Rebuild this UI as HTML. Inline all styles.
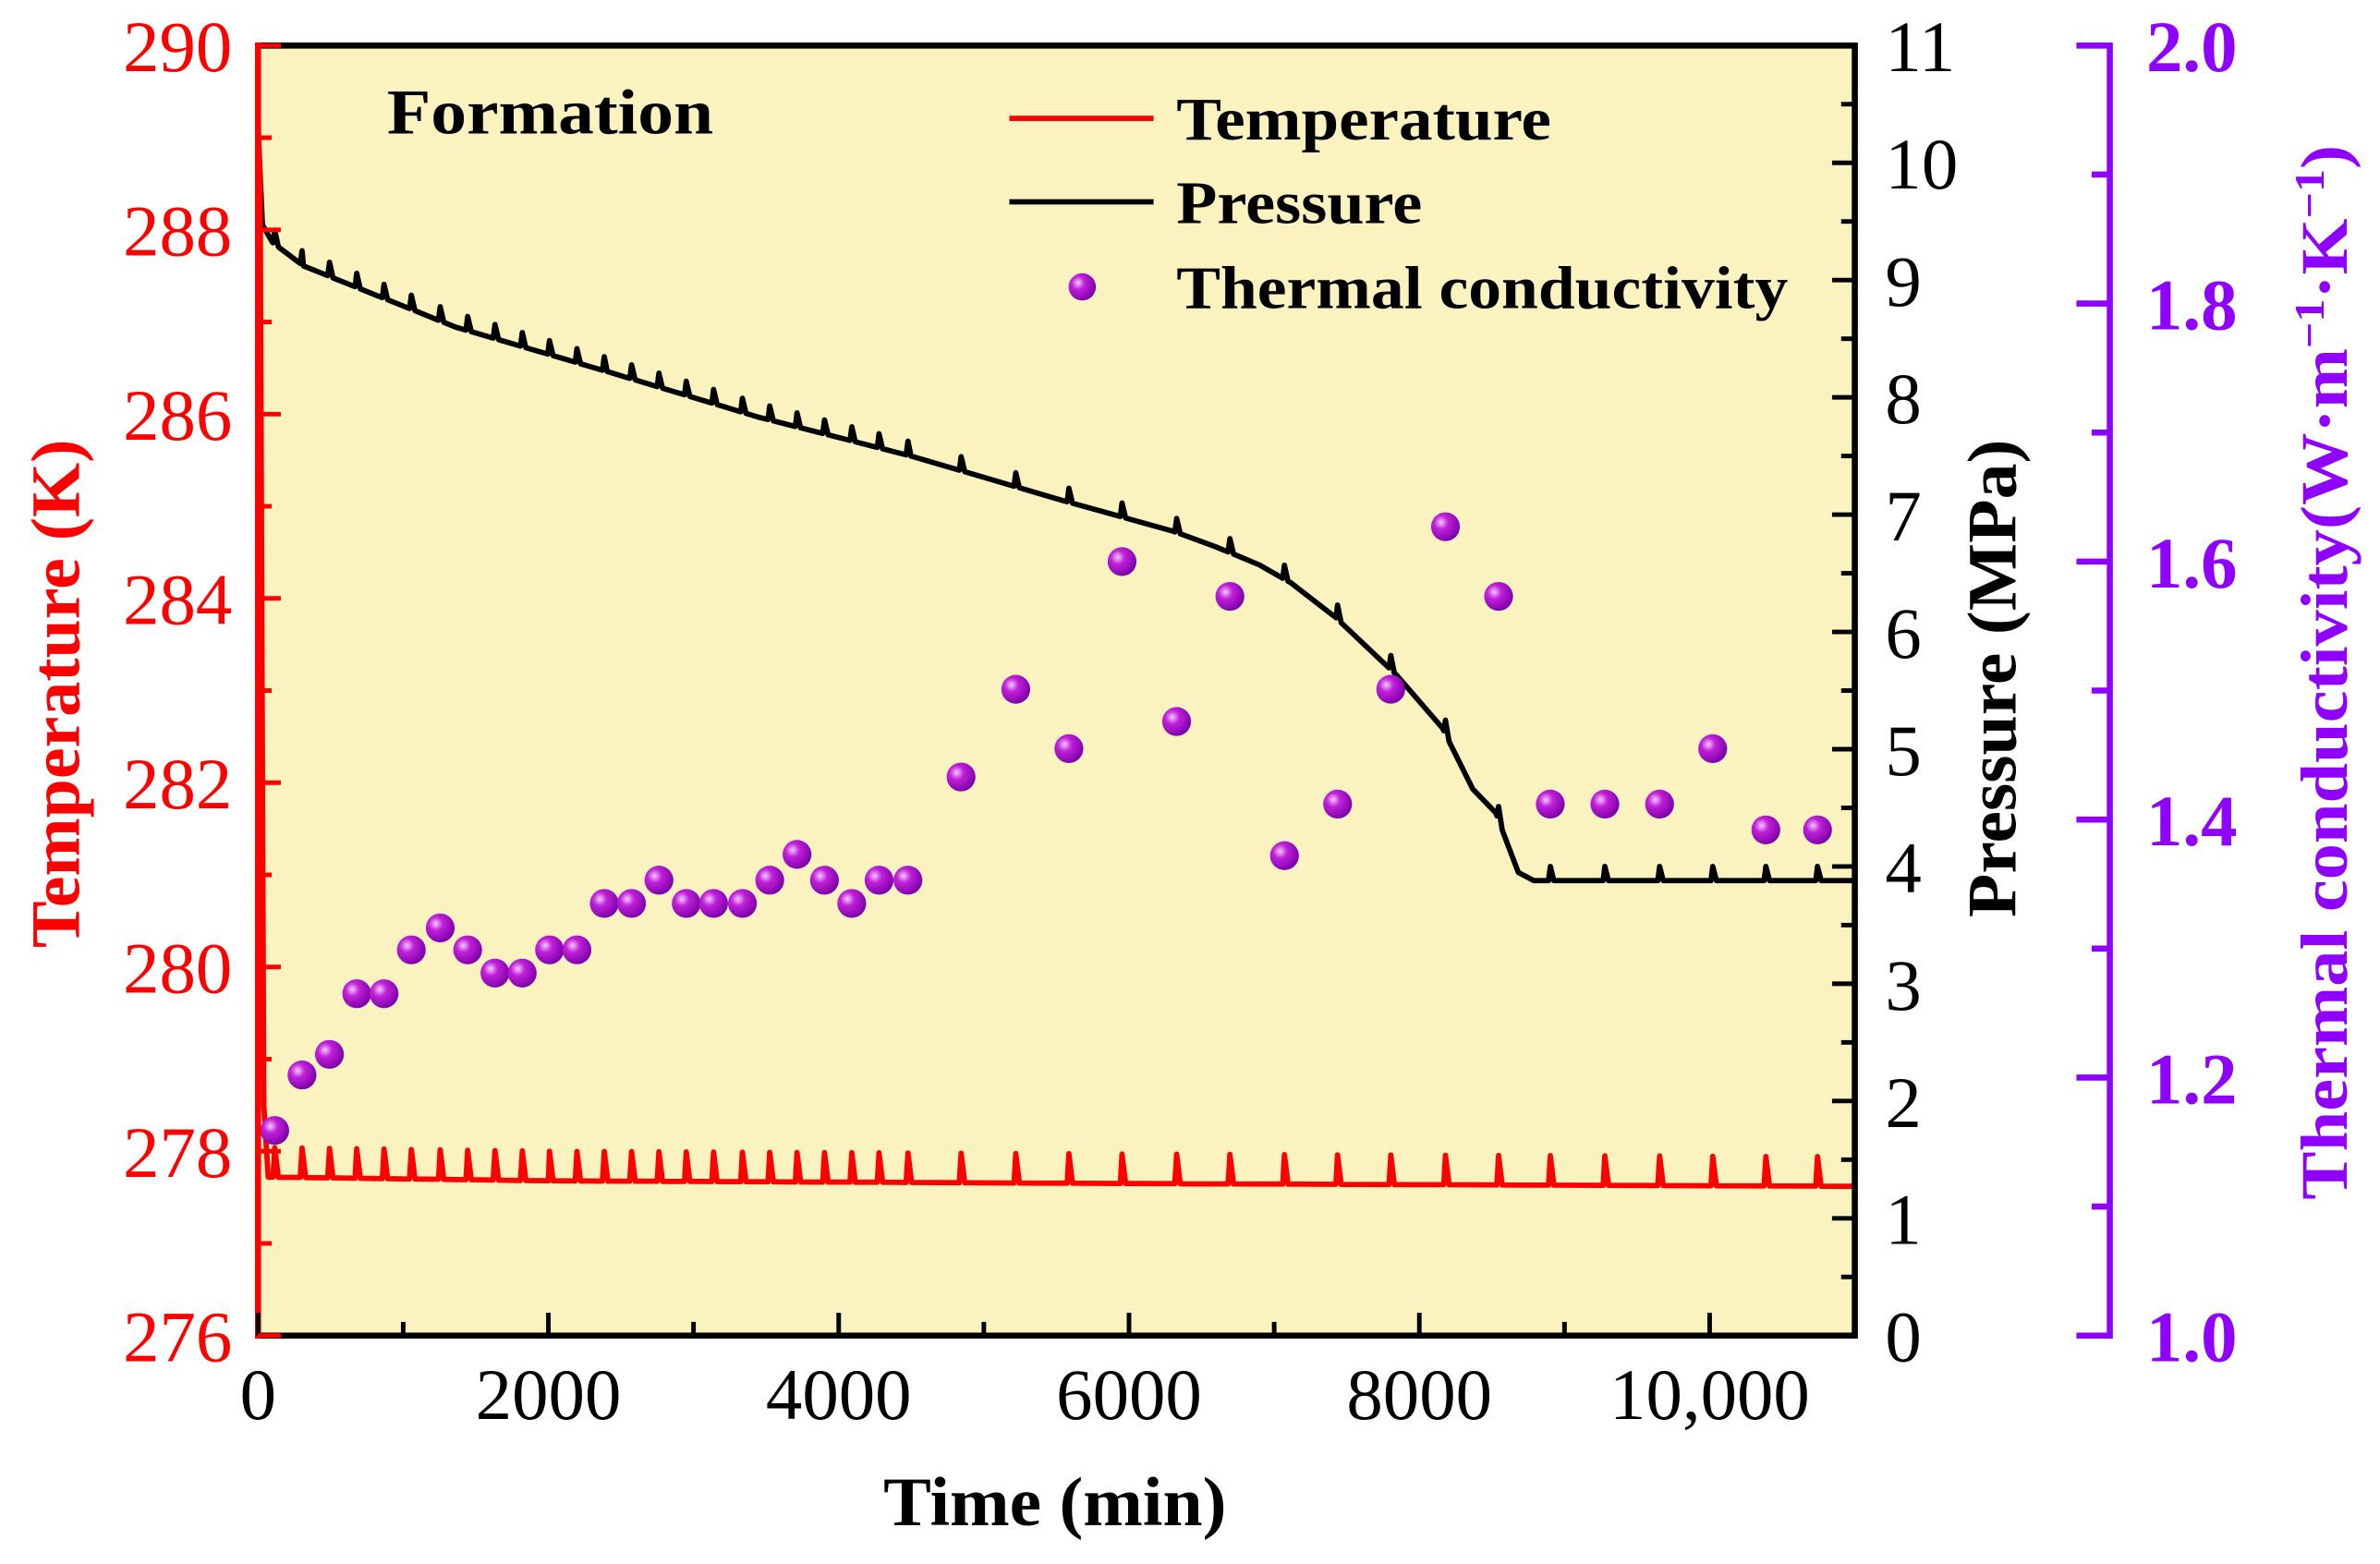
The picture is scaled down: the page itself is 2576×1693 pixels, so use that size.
<!DOCTYPE html>
<html><head><meta charset="utf-8"><style>
html,body{margin:0;padding:0;background:#fff;}
svg{display:block;font-family:"Liberation Serif",serif;}
</style></head><body>
<svg id="chart" width="2576" height="1693" viewBox="0 0 1568 1030.5" xmlns="http://www.w3.org/2000/svg">
<defs>
<radialGradient id="ball" cx="0.35" cy="0.35" r="0.7">
<stop offset="0" stop-color="#f4c8ff"/><stop offset="0.35" stop-color="#c020d8"/><stop offset="1" stop-color="#7a00a8"/>
</radialGradient>
</defs>
<rect x="170" y="30" width="1052" height="850" fill="#faf3c0"/>
<g id="marks"></g>
<g id="axes"></g>
<text x="255" y="88" font-size="42" font-weight="bold" textLength="215" lengthAdjust="spacingAndGlyphs">Formation</text>
<g>
<line x1="665" y1="78" x2="760" y2="78" stroke="#ff0000" stroke-width="3.5"/>
<text x="775" y="92" font-size="40" font-weight="bold" textLength="247" lengthAdjust="spacingAndGlyphs">Temperature</text>
<line x1="665" y1="133" x2="760" y2="133" stroke="#000" stroke-width="3.5"/>
<text x="775" y="147" font-size="40" font-weight="bold" textLength="162" lengthAdjust="spacingAndGlyphs">Pressure</text>
<circle cx="713" cy="189" r="9" fill="url(#ball)"/>
<text x="775" y="203" font-size="40" font-weight="bold" textLength="403" lengthAdjust="spacingAndGlyphs">Thermal conductivity</text>
</g>
<text transform="translate(52,457) rotate(-90)" text-anchor="middle" font-size="46" font-weight="bold" fill="#ff0000" textLength="335" lengthAdjust="spacingAndGlyphs">Temperature (K)</text>
<text transform="translate(1328,447) rotate(-90)" text-anchor="middle" font-size="46" font-weight="bold" fill="#000" textLength="315" lengthAdjust="spacingAndGlyphs">Pressure (MPa)</text>
<text transform="translate(1546,443) rotate(-90)" text-anchor="middle" font-size="44" font-weight="bold" fill="#9000ff" textLength="695" lengthAdjust="spacingAndGlyphs">Thermal conductivity(W·m<tspan baseline-shift="super" font-size="28">−1</tspan>·K<tspan baseline-shift="super" font-size="28">−1</tspan>)</text>
<text x="695" y="1005" text-anchor="middle" font-size="46" font-weight="bold" textLength="226" lengthAdjust="spacingAndGlyphs">Time (min)</text>
</svg>
<script>
const kTimes=[115,303,492,680,868,1056,1255,1444,1632,1820,2008,2197,2385,2573,2762,2950,3138,3337,3525,3713,3902,4090,4278,4477,4843,5220,5586,5952,6328,6695,7071,7437,7803,8180,8546,8902,9278,9655,10021,10387,10743];
const kValues=[1.159,1.202,1.218,1.265,1.265,1.299,1.316,1.299,1.281,1.281,1.299,1.299,1.335,1.335,1.353,1.335,1.335,1.335,1.353,1.373,1.353,1.335,1.353,1.353,1.433,1.501,1.455,1.600,1.476,1.573,1.372,1.412,1.501,1.627,1.573,1.412,1.412,1.412,1.455,1.392,1.392];
const pTimes=[0,30,100,314,837,1360,2406,3452,4498,5544,6300,6590,6900,7113,7427,7845,8159,8368,8525,8682,8787,11000];
const pValues=[10.3,9.47,9.32,9.12,8.86,8.6,8.22,7.83,7.5,7.12,6.86,6.73,6.57,6.42,6.12,5.63,5.18,4.66,4.46,3.95,3.88,3.88];
const tTimes=[0,15,40,70,2000,6000,11000];
const tValues=[289.2,288.5,278.5,277.72,277.68,277.65,277.62];
const xTicks=[0,2000,4000,6000,8000,10000];
const xTickLabels=["0","2000","4000","6000","8000","10,000"];
const tTicks=[276,278,280,282,284,286,288,290];
const pTicks=[0,1,2,3,4,5,6,7,8,9,10,11];
const kTicks=[1.0,1.2,1.4,1.6,1.8,2.0];

const L=170,R=1222,T=30,B=880;
const x=t=>L+t/11000*(R-L);
const yT=v=>B-(v-276)/14*(B-T);
const yP=v=>B-v/11*(B-T);
const yK=v=>B-(v-1)/1*(B-T);
const NS="http://www.w3.org/2000/svg";
function mk(tag,attrs,parent){const e=document.createElementNS(NS,tag);for(const k in attrs)e.setAttribute(k,attrs[k]);parent.appendChild(e);return e;}
function interp(ts,vs,t){if(t<=ts[0])return vs[0];for(let i=1;i<ts.length;i++){if(t<=ts[i]){const f=(t-ts[i-1])/(ts[i]-ts[i-1]);return vs[i-1]+f*(vs[i]-vs[i-1]);}}return vs[vs.length-1];}
function series(ts,vs,amp){
  let pts=ts.map((t,i)=>[t,vs[i]]);
  kTimes.forEach(t=>{pts.push([t-12,interp(ts,vs,t-12)]);pts.push([t,interp(ts,vs,t)+amp]);pts.push([t+25,interp(ts,vs,t+25)]);});
  pts.sort((a,b)=>a[0]-b[0]);return pts;
}
const marks=document.getElementById('marks');
const pp=series(pTimes,pValues,0.12);
const pl=mk('path',{d:'M'+pp.map(p=>x(p[0]).toFixed(1)+','+yP(p[1]).toFixed(1)).join('L'),fill:'none',stroke:'#000','stroke-width':3.5,'stroke-linejoin':'round'},marks);


const tp=series(tTimes,tValues,0.32);
const tl=mk('path',{d:'M'+tp.map(p=>x(p[0]).toFixed(1)+','+yT(p[1]).toFixed(1)).join('L'),fill:'none',stroke:'#ff0000','stroke-width':3.5,'stroke-linejoin':'round'},marks);


kTimes.forEach((t,i)=>{const c=mk('circle',{cx:x(t),cy:yK(kValues[i]),r:9.5,fill:'url(#ball)'},marks);

});

const ax=document.getElementById('axes');
const fr=mk('path',{d:`M${L},${T}H${R}V${B}H${L}`,fill:'none',stroke:'#000','stroke-width':4},ax);


const la=mk('line',{x1:L,y1:T-2,x2:L,y2:B+2,stroke:'#ff0000','stroke-width':4},ax);


for(let t=0;t<=11000;t+=1000){const len=t%2000===0?15:9;mk('line',{x1:x(t),y1:B,x2:x(t),y2:B-len,stroke:'#000','stroke-width':3},ax);}
xTicks.forEach((t,i)=>{const e=mk('text',{x:x(t),y:B+55,'text-anchor':'middle','font-size':48},ax);e.textContent=xTickLabels[i];

});
for(let v=276;v<=290;v+=1){const len=v%2===0?15:9;mk('line',{x1:L,y1:yT(v),x2:L+len,y2:yT(v),stroke:'#ff0000','stroke-width':3},ax);}
tTicks.forEach(v=>{const e=mk('text',{x:L-17,y:yT(v)+17,'text-anchor':'end','font-size':48,fill:'#ff0000'},ax);e.textContent=v;

});
for(let v=0;v<=11;v+=0.5){const len=Number.isInteger(v)?15:9;mk('line',{x1:R,y1:yP(v),x2:R-len,y2:yP(v),stroke:'#000','stroke-width':3},ax);}
pTicks.forEach(v=>{const e=mk('text',{x:R+20,y:yP(v)+17,'font-size':48},ax);e.textContent=v;

});
const KX=1390;
const ka=mk('line',{x1:KX,y1:T-2,x2:KX,y2:B+2,stroke:'#9000ff','stroke-width':4},ax);


for(let i=0;i<=10;i++){const v=1+i*0.1;const len=i%2===0?22:12;mk('line',{x1:KX,y1:yK(v),x2:KX-len,y2:yK(v),stroke:'#9000ff','stroke-width':4},ax);}
kTicks.forEach(v=>{const e=mk('text',{x:KX+24,y:yK(v)+17,'font-size':48,'font-weight':'bold',fill:'#9000ff'},ax);e.textContent=v.toFixed(1);

});
</script>
</body></html>
